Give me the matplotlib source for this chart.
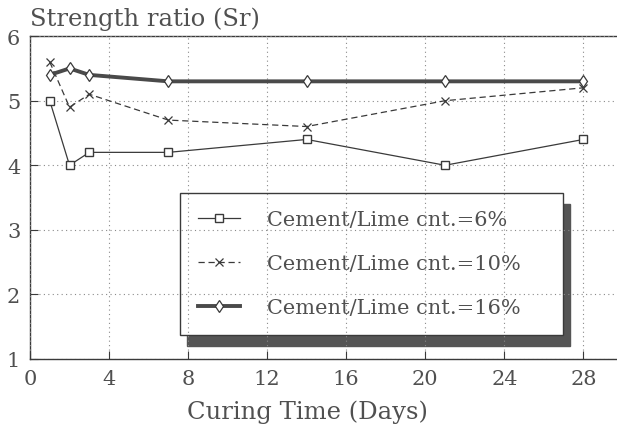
import matplotlib

matplotlib.use("Agg")
import matplotlib.pyplot as plt

days = [1, 2, 3, 7, 14, 21, 28]
sr_6 = [5.0, 4.0, 4.2, 4.2, 4.4, 4.0, 4.4]
sr_10 = [5.6, 4.9, 5.1, 4.7, 4.6, 5.0, 5.2]
sr_16 = [5.4, 5.5, 5.4, 5.3, 5.3, 5.3, 5.3]
labels = ["Cement/Lime cnt.=6%", "Cement/Lime cnt.=10%", "Cement/Lime cnt.=16%"]
x_ticks = [0, 4, 8, 12, 16, 20, 24, 28]
y_ticks = [1, 2, 3, 4, 5, 6]

plt.rcParams["font.family"] = ["DejaVu Serif"]
ink = "#3a3a3a"
txt = "#505050"

fig = plt.figure(figsize=(6.17, 4.27), dpi=100)
ax = fig.add_axes([0.0486, 0.157, 0.9514, 0.756])

ax.plot(days, sr_6, color=ink, linewidth=0.9, marker="s", markersize=6,
        markerfacecolor="white", markeredgecolor=ink, label=labels[0], zorder=3)
ax.plot(days, sr_10, color=ink, linewidth=0.9, linestyle=(0, (5, 3)), marker="x",
        markersize=6, markeredgewidth=0.9, label=labels[1], zorder=3)
ax.plot(days, sr_16, color="#4a4a4a", linewidth=2.8, marker="d", markersize=6,
        markerfacecolor="white", markeredgecolor=ink, markeredgewidth=0.9,
        label=labels[2], zorder=3)

ax.set_xlim(0, 29.7)
ax.set_ylim(1, 6)
ax.set_xticks(x_ticks)
ax.set_yticks(y_ticks)
ax.tick_params(direction="in", length=6, color=ink, labelsize=15, labelcolor=txt, pad=7)
ax.grid(True, linestyle=(0, (1, 3)), color="#8a8a8a", linewidth=0.8)
ax.set_axisbelow(False)
for side in ("top", "left", "bottom"):
    ax.spines[side].set_color(ink)
    ax.spines[side].set_linewidth(1.0)
ax.spines["right"].set_visible(False)

ax.text(0.0, 1.02, "Strength ratio (Sr)", transform=ax.transAxes, fontsize=17.5,
        color=txt, ha="left", va="bottom")
ax.set_xlabel("Curing Time (Days)", fontsize=17.5, color=txt)
ax.xaxis.set_label_coords(0.472, -0.125)

leg = ax.legend(loc="center", bbox_to_anchor=(0.256, 0.065, 0.652, 0.46), mode="expand",
                borderaxespad=0, fontsize=15, labelspacing=1.2, handlelength=2.0,
                handletextpad=1.3, borderpad=0.85, fancybox=False, framealpha=1.0,
                edgecolor=ink, labelcolor=txt,
                shadow={"ox": 5, "oy": -8, "color": "#555555", "alpha": 1.0})
leg.get_frame().set_linewidth(1.0)
leg.set_zorder(1.5)

fig.savefig("out.png", dpi=100)
